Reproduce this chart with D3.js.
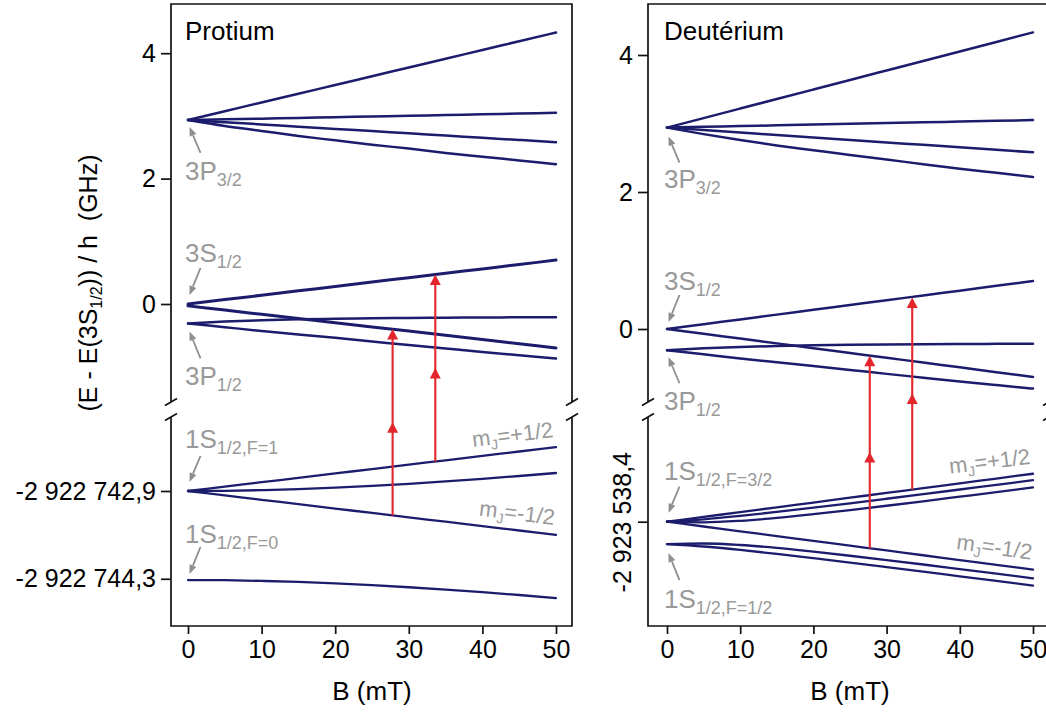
<!DOCTYPE html>
<html><head><meta charset="utf-8">
<script src="https://cdn.jsdelivr.net/npm/d3@7"></script>
<style>
body{margin:0;background:#fff}
svg{display:block}
text{font-family:"Liberation Sans",Arial,Helvetica,sans-serif}
</style>
</head><body>
<svg id="chart" width="1046" height="713"></svg>
<script>
// ---------------- data ----------------
const Bfield = [0,5,10,15,20,25,30,35,40,45,50];           // mT
const xTickValues = [0,10,20,30,40,50];
const upperTickValues = [0,2,4];
const upperTickLabels = ["0","2","4"];

// Protium, n=3 manifold, (E - E(3S1/2))/h in GHz
const hP32 = [
  [2.935,3.075,3.214,3.354,3.493,3.633,3.772,3.912,4.051,4.191,4.330],
  [2.935,2.945,2.956,2.967,2.979,2.990,3.002,3.014,3.026,3.038,3.050],
  [2.935,2.899,2.864,2.828,2.793,2.758,2.722,2.687,2.651,2.616,2.580],
  [2.935,2.840,2.760,2.680,2.610,2.540,2.480,2.410,2.350,2.290,2.230]];
const hS = [
  [0.000,0.070,0.140,0.210,0.280,0.350,0.420,0.490,0.560,0.630,0.700],
  [-0.030,-0.097,-0.164,-0.231,-0.298,-0.365,-0.432,-0.499,-0.566,-0.633,-0.700]];
const hP12 = [
  [-0.310,-0.280,-0.260,-0.245,-0.235,-0.228,-0.222,-0.218,-0.215,-0.212,-0.210],
  [-0.310,-0.370,-0.430,-0.485,-0.540,-0.597,-0.655,-0.710,-0.765,-0.818,-0.870]];
// Protium 1S, offsets (GHz) from the reference level
const h1SRef = -2922742.9;
const h1S = [
  [0,0.070,0.140,0.210,0.280,0.350,0.420,0.490,0.560,0.630,0.700],
  [0,0.003,0.014,0.030,0.053,0.082,0.115,0.153,0.194,0.239,0.287],
  [0,-0.070,-0.140,-0.210,-0.280,-0.350,-0.420,-0.490,-0.560,-0.630,-0.700],
  [-1.420,-1.423,-1.434,-1.450,-1.473,-1.502,-1.535,-1.573,-1.614,-1.659,-1.707]];
const hLowerTicks = [-2922742.9,-2922744.3];
const hLowerTickLabels = ["-2 922 742,9","-2 922 744,3"];
const hArrowB = [27.8,33.6];
const hArrowFrom = [-2922743.29,-2922742.43];
const hArrowTo = [-0.40,0.47];

// Deuterium, n=3 manifold
const dP32 = [
  [2.940,3.079,3.218,3.357,3.496,3.635,3.774,3.913,4.052,4.191,4.330],
  [2.940,2.951,2.962,2.973,2.984,2.995,3.006,3.017,3.028,3.039,3.050],
  [2.940,2.904,2.868,2.832,2.796,2.760,2.724,2.688,2.652,2.616,2.580],
  [2.940,2.845,2.760,2.680,2.610,2.540,2.475,2.405,2.340,2.280,2.220]];
const dS = [
  [0.000,0.070,0.140,0.210,0.280,0.350,0.420,0.490,0.560,0.630,0.700],
  [0.000,-0.070,-0.140,-0.210,-0.280,-0.350,-0.420,-0.490,-0.560,-0.630,-0.700]];
const dP12 = [
  [-0.310,-0.282,-0.262,-0.248,-0.238,-0.231,-0.226,-0.222,-0.219,-0.217,-0.215],
  [-0.310,-0.370,-0.430,-0.485,-0.540,-0.597,-0.655,-0.710,-0.765,-0.818,-0.870]];
// Deuterium 1S, offsets (GHz) from the reference level
const d1SRef = -2923538.4;
const d1S = [
  [0,0.070,0.140,0.210,0.280,0.350,0.420,0.490,0.560,0.630,0.700],
  [0,0.035,0.085,0.143,0.205,0.269,0.335,0.402,0.470,0.538,0.606],
  [0,-0.009,0.013,0.055,0.110,0.170,0.233,0.298,0.365,0.432,0.500],
  [0,-0.070,-0.140,-0.210,-0.280,-0.350,-0.420,-0.490,-0.560,-0.630,-0.700],
  [-0.327,-0.362,-0.412,-0.470,-0.532,-0.596,-0.662,-0.729,-0.797,-0.865,-0.933],
  [-0.327,-0.318,-0.340,-0.382,-0.437,-0.497,-0.560,-0.625,-0.692,-0.759,-0.827]];
const dLowerTicks = [-2923538.4];
const dLowerTickLabels = ["-2 923 538,4"];
const dArrowB = [27.7,33.5];
const dArrowFrom = [-2923538.79,-2923537.93];
const dArrowTo = [-0.39,0.46];

// ---------------- drawing ----------------
const svg = d3.select("#chart");
const NAVY = "#1c1c6c", RED = "#e3262b", GRAY = "#999999", GRAYL = "#8f8f8f";

function panel(cfg) {
  const g = svg.append("g");
  const x = d3.scaleLinear().domain([0,50]).range([cfg.x0, cfg.x1]);
  const yU = d3.scaleLinear().domain([0,1]).range([cfg.uZero, cfg.uZero - cfg.uPx]);
  const yL = d3.scaleLinear().domain([cfg.ref, cfg.ref - 1]).range([cfg.lRefY, cfg.lRefY + cfg.lPx]);

  // frame
  const fr = g.append("g").attr("fill","none").attr("stroke","#111").attr("stroke-width",1.7);
  fr.append("path").attr("d",`M${cfg.left},${cfg.brkT}V${cfg.top}H${cfg.right}V${cfg.brkT}`);
  fr.append("path").attr("d",`M${cfg.left},${cfg.brkB}V${cfg.bottom}H${cfg.right}V${cfg.brkB}`);
  [cfg.left, cfg.right].forEach(px => [cfg.brkT, cfg.brkB].forEach(py => {
    fr.append("line").attr("x1",px-6).attr("y1",py+3.5).attr("x2",px+6).attr("y2",py-3.5);
  }));

  // axes
  const ax = g.append("g").attr("transform",`translate(0,${cfg.bottom})`)
    .call(d3.axisBottom(x).tickValues(xTickValues).tickSize(8).tickPadding(6).tickFormat(d3.format("d")));
  const ayU = g.append("g").attr("transform",`translate(${cfg.left},0)`)
    .call(d3.axisLeft(yU).tickValues(upperTickValues).tickSize(10).tickPadding(5)
      .tickFormat((d,i)=>upperTickLabels[i]));
  const ayL = g.append("g").attr("transform",`translate(${cfg.left},0)`)
    .call(d3.axisLeft(yL).tickValues(cfg.lowerTicks).tickSize(10).tickPadding(5)
      .tickFormat((d,i)=>cfg.lowerTickLabels[i]));
  [ax,ayU,ayL].forEach(a=>{
    a.select(".domain").remove();
    a.selectAll("line").attr("stroke","#111").attr("stroke-width",1.7);
    a.selectAll("text").attr("font-size",25).attr("fill","#000")
      .attr("font-family","'Liberation Sans',Arial,sans-serif");
  });
  if (cfg.rotateLower) {
    ayL.selectAll("text").attr("x",0).attr("y",-17).attr("dy",0)
      .attr("text-anchor","middle").attr("transform","rotate(-90)");
  }
  g.append("text").attr("x",(cfg.x0+cfg.x1)/2).attr("y",700).attr("text-anchor","middle")
    .attr("font-size",26).text("B (mT)");
  g.append("text").attr("x",cfg.x0-3).attr("y",40).attr("font-size",26).text(cfg.title);

  // level lines
  const lineU = d3.line().x((d,i)=>x(Bfield[i])).y(d=>yU(d)).curve(d3.curveMonotoneX);
  const lineL = d3.line().x((d,i)=>x(Bfield[i])).y(d=>yL(cfg.ref + d)).curve(d3.curveMonotoneX);
  const lg = g.append("g").attr("fill","none").attr("stroke",NAVY).attr("stroke-linecap","round");
  cfg.p32.concat(cfg.p12).forEach(s=>lg.append("path").attr("d",lineU(s)).attr("stroke-width",2.5));
  cfg.s.forEach(s=>lg.append("path").attr("d",lineU(s)).attr("stroke-width",cfg.sWidth));
  cfg.one.forEach(s=>lg.append("path").attr("d",lineL(s)).attr("stroke-width",2.3));

  // red transition arrows
  const rg = g.append("g");
  const head = (px,py)=>`M${px},${py}L${px-5.5},${py+10.5}L${px+5.5},${py+10.5}Z`;
  cfg.arrowB.forEach((b,i)=>{
    const px = x(b), y0 = yL(cfg.arrowFrom[i]), y1 = yU(cfg.arrowTo[i]), ym = (y0+y1)/2;
    rg.append("line").attr("x1",px).attr("x2",px).attr("y1",y0).attr("y2",y1+6)
      .attr("stroke",RED).attr("stroke-width",2.1);
    rg.append("path").attr("d",head(px,y1)).attr("fill",RED);
    rg.append("path").attr("d",head(px,ym)).attr("fill",RED);
  });

  // gray level labels with pointers
  const ag = g.append("g");
  cfg.labels.forEach(l=>{
    const yy = (l.upper ? yU(l.level) : yL(l.level));
    const x0 = x(0);
    const t = ag.append("text").attr("x",x0-3).attr("y",yy+l.ty).attr("fill",GRAY).attr("font-size",26);
    t.append("tspan").text(l.main);
    t.append("tspan").attr("font-size",18).attr("dy",6).text(l.sub);
    const tipX = x0+1.5, tipY = yy + l.tip, tailX = x0+12.5, tailY = yy + l.tail;
    const ang = Math.atan2(tipY-tailY, tipX-tailX);
    const hx = tipX - 9*Math.cos(ang), hy = tipY - 9*Math.sin(ang);
    ag.append("line").attr("x1",tailX).attr("y1",tailY).attr("x2",hx).attr("y2",hy)
      .attr("stroke",GRAYL).attr("stroke-width",1.8);
    const px = -Math.sin(ang)*3.6, py = Math.cos(ang)*3.6;
    ag.append("path").attr("d",`M${tipX},${tipY}L${hx+px},${hy+py}L${hx-px},${hy-py}Z`).attr("fill",GRAYL);
  });

  // m_J labels
  cfg.mj.forEach(m=>{
    const ex = x(50)-2, ey = yL(cfg.ref + m.level) - 10;
    const t = ag.append("text").attr("transform",`translate(${ex},${ey}) rotate(${m.rot})`)
      .attr("text-anchor","end").attr("fill",GRAY).attr("font-size",22);
    t.append("tspan").text("m");
    t.append("tspan").attr("font-size",14).attr("dy",5).text("J");
    t.append("tspan").attr("dy",-5).text(m.txt);
  });
}

panel({
  title:"Protium", left:171, right:572, x0:188, x1:556, top:4, brkT:402, brkB:417, bottom:626,
  uZero:304, uPx:62.7, ref:h1SRef, lRefY:491, lPx:62.7,
  lowerTicks:hLowerTicks, lowerTickLabels:hLowerTickLabels, rotateLower:false,
  p32:hP32, s:hS, p12:hP12, one:h1S, sWidth:3.0,
  arrowB:hArrowB, arrowFrom:hArrowFrom, arrowTo:hArrowTo,
  labels:[
    {main:"3P",sub:"3/2",upper:true,level:2.935,ty:60,tip:7,tail:33},
    {main:"3S",sub:"1/2",upper:true,level:0,ty:-42,tip:-9,tail:-36},
    {main:"3P",sub:"1/2",upper:true,level:-0.31,ty:62,tip:8,tail:35},
    {main:"1S",sub:"1/2,F=1",upper:false,level:-2922742.9,ty:-43,tip:-9,tail:-35},
    {main:"1S",sub:"1/2,F=0",upper:false,level:-2922744.32,ty:-37,tip:-6,tail:-33}],
  mj:[{txt:"=+1/2",level:0.70,rot:-7},{txt:"=-1/2",level:-0.70,rot:7}]
});

panel({
  title:"Deutérium", left:648, right:1049, x0:667, x1:1033, top:4, brkT:402, brkB:417, bottom:626,
  uZero:329, uPx:68.5, ref:d1SRef, lRefY:521.7, lPx:68.5,
  lowerTicks:dLowerTicks, lowerTickLabels:dLowerTickLabels, rotateLower:true,
  p32:dP32, s:dS, p12:dP12, one:d1S, sWidth:2.5,
  arrowB:dArrowB, arrowFrom:dArrowFrom, arrowTo:dArrowTo,
  labels:[
    {main:"3P",sub:"3/2",upper:true,level:2.94,ty:60,tip:9,tail:35},
    {main:"3S",sub:"1/2",upper:true,level:0,ty:-39,tip:-7,tail:-34},
    {main:"3P",sub:"1/2",upper:true,level:-0.31,ty:60,tip:7,tail:33},
    {main:"1S",sub:"1/2,F=3/2",upper:false,level:-2923538.4,ty:-42,tip:-9,tail:-35},
    {main:"1S",sub:"1/2,F=1/2",upper:false,level:-2923538.727,ty:64,tip:9,tail:36}],
  mj:[{txt:"=+1/2",level:0.70,rot:-7},{txt:"=-1/2",level:-0.70,rot:8}]
});

// shared y-axis title
const yt = svg.append("text").attr("transform","translate(97,283) rotate(-90)")
  .attr("text-anchor","middle").attr("font-size",25).attr("style","white-space:pre");
yt.append("tspan").text("(E - E(3S");
yt.append("tspan").attr("font-size",16).attr("dy",5).text("1/2");
yt.append("tspan").attr("dy",-5).text(")) / h  (GHz)");
</script>
</body></html>
